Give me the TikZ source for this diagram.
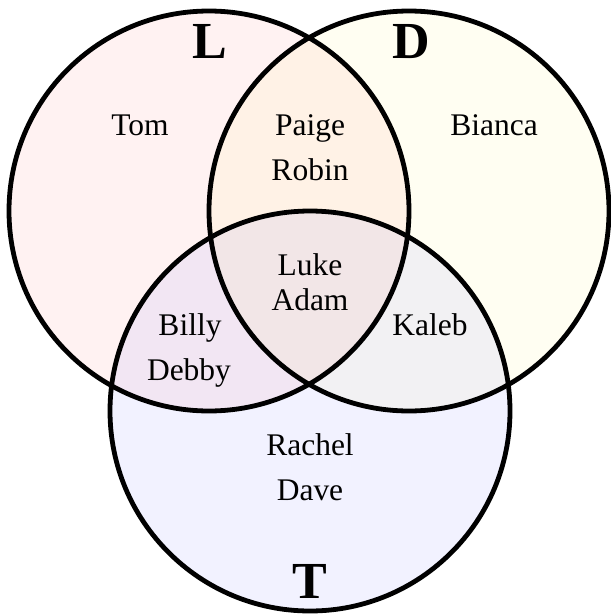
\documentclass[tikz,border=0pt]{standalone}
\usepackage{fontspec}
\setmainfont{Liberation Serif}
\usetikzlibrary{positioning}

\begin{document}
\begin{tikzpicture}[x=1pt,y=-1pt,
 ring/.style={draw=black,line width=4.8pt},
 tint/.style={fill opacity=0.05},
 who/.style={font=\fontsize{31.5}{36}\selectfont,inner sep=0pt,anchor=base},
 setname/.style={font=\fontsize{52}{60}\selectfont\bfseries,inner sep=0pt,anchor=base}]
\useasboundingbox (0,0) rectangle (611,614);
\coordinate (cL) at (209,211);
\coordinate (cD) at (409,211);
\coordinate (cT) at (310,411);
% light fills, overlaps mix by themselves
\fill[tint,red] (cL) circle[radius=200];
\fill[tint,yellow] (cD) circle[radius=200];
\fill[tint,blue] (cT) circle[radius=200];
\draw[ring] (cL) circle[radius=200];
\draw[ring] (cD) circle[radius=200];
\draw[ring] (cT) circle[radius=200];
% set names
\node[setname] (setL) at (210,58) {L};
\node[setname] (setD) at (411,58) {D};
\node[setname] (setT) at (310,598) {T};
% members
\node[who] (tom) at (140,135) {Tom};
\node[who] (paige) at (310,135) {Paige};
\node[who] (robin) at (310,180) {Robin};
\node[who] (bianca) at (494,135) {Bianca};
\node[who] (luke) at (310,275) {Luke};
\node[who] (adam) at (310,310) {Adam};
\node[who] (billy) at (190,335) {Billy};
\node[who] (debby) at (189,380) {Debby};
\node[who] (kaleb) at (430,335) {Kaleb};
\node[who] (rachel) at (310,455) {Rachel};
\node[who] (dave) at (310,500) {Dave};
\end{tikzpicture}
\end{document}
